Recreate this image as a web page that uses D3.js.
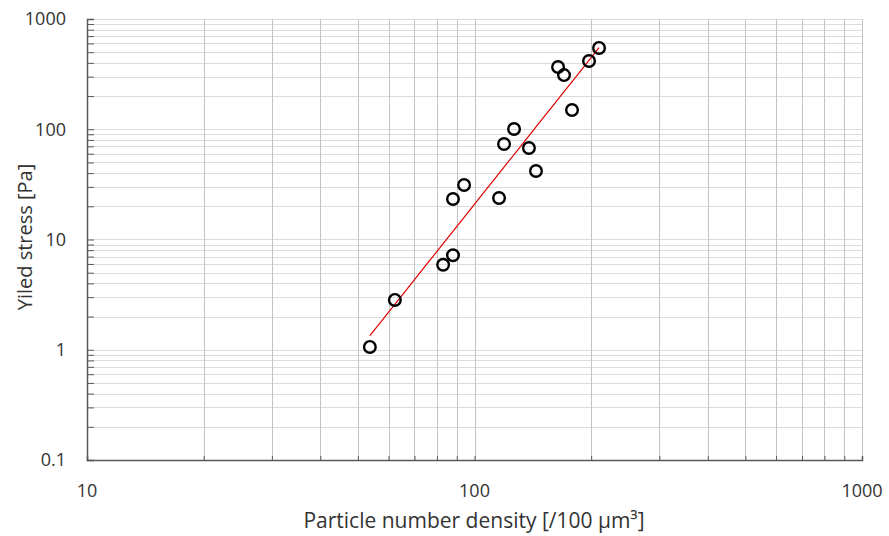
<!DOCTYPE html>
<html>
<head>
<meta charset="utf-8">
<script src="https://cdn.jsdelivr.net/npm/d3@7"></script>
<style>
  body { margin: 0; background: #fff; }
  text { font-family: "Open Sans", "Noto Sans", sans-serif; fill: #333; }
</style>
</head>
<body>
<div id="chart"></div>
<script>
// particle number density [/100 um3]
var density = [53.7, 62.3, 83, 88, 88, 94, 115.7, 119.2, 126.5, 138.2, 144.1, 164.3, 170.2, 178.5, 197.5, 209.6];
// yield stress [Pa]
var stress = [1.06, 2.83, 5.9, 7.2, 23.3, 31.2, 23.8, 73.5, 100.5, 67.6, 41.8, 367, 310, 149.5, 416, 546];
var xTickLabels = [10, 100, 1000];
var yTickLabels = [0.1, 1, 10, 100, 1000];

(function() {
  var width = 889, height = 536;
  var margin = {top: 19, right: 27, bottom: 76, left: 87};

  var svg = d3.select("#chart").append("svg")
    .attr("width", width)
    .attr("height", height);

  var x = d3.scaleLog().domain([10, 1000]).range([margin.left, width - margin.right]);
  var y = d3.scaleLog().domain([0.1, 1000]).range([height - margin.bottom, margin.top]);

  // every 1..9 step within each decade
  function minorTicks(lo, hi) {
    var out = [];
    for (var p = lo; p < hi; p *= 10)
      for (var k = 1; k < 10; k++) out.push(p * k);
    out.push(hi);
    return out;
  }
  var xGrid = minorTicks(10, 1000);
  var yGrid = minorTicks(0.1, 1000);

  // horizontal grid (lighter)
  svg.append("g").selectAll("line")
    .data(yGrid)
    .enter().append("line")
    .attr("x1", x.range()[0]).attr("x2", x.range()[1])
    .attr("y1", function(d) { return Math.round(y(d)) + 0.5; })
    .attr("y2", function(d) { return Math.round(y(d)) + 0.5; })
    .attr("stroke", "#dcdcdc").attr("stroke-width", 1);

  // vertical grid (darker)
  svg.append("g").selectAll("line")
    .data(xGrid)
    .enter().append("line")
    .attr("y1", y.range()[0]).attr("y2", y.range()[1])
    .attr("x1", function(d) { return Math.round(x(d)) + 0.5; })
    .attr("x2", function(d) { return Math.round(x(d)) + 0.5; })
    .attr("stroke", "#c4c4c4").attr("stroke-width", 1);

  // axes: ticks point inward, labels only at decades
  var yAxis = d3.axisLeft(y).tickValues(yGrid).tickSize(-7).tickFormat("");
  var xAxis = d3.axisBottom(x).tickValues(xGrid).tickSize(-4).tickFormat("");

  svg.append("g")
    .attr("transform", "translate(" + x.range()[0] + ",0)")
    .call(yAxis)
    .call(function(g) {
      g.select(".domain").attr("stroke", "#595959").attr("stroke-width", 1.5);
      g.selectAll(".tick line").attr("stroke", "#595959");
    });

  svg.append("g")
    .attr("transform", "translate(0," + y.range()[0] + ")")
    .call(xAxis)
    .call(function(g) {
      g.select(".domain").attr("stroke", "#595959").attr("stroke-width", 1.5);
      g.selectAll(".tick line").attr("stroke", "#595959");
    });

  svg.append("g").selectAll("text")
    .data(yTickLabels)
    .enter().append("text")
    .attr("x", 66)
    .attr("y", function(d) { return y(d); })
    .attr("dy", "0.35em")
    .attr("text-anchor", "end")
    .style("font-size", "18px")
    .text(function(d) { return d; });

  svg.append("g").selectAll("text")
    .data(xTickLabels)
    .enter().append("text")
    .attr("x", function(d) { return x(d); })
    .attr("y", 497)
    .attr("text-anchor", "middle")
    .style("font-size", "18px")
    .text(function(d) { return d; });

  svg.append("text")
    .attr("x", 474).attr("y", 528)
    .attr("text-anchor", "middle")
    .style("font-size", "21px")
    .text("Particle number density [/100 \u00b5m\u00b3]");

  svg.append("text")
    .attr("transform", "translate(32,237) rotate(-90)")
    .attr("text-anchor", "middle")
    .style("font-size", "20px")
    .text("Yiled stress [Pa]");

  // power trendline: least squares in log-log space
  var lx = density.map(Math.log10), ly = stress.map(Math.log10);
  var mx = d3.mean(lx), my = d3.mean(ly);
  var b = d3.sum(lx, function(v, i) { return (v - mx) * (ly[i] - my); }) /
          d3.sum(lx, function(v) { return (v - mx) * (v - mx); });
  var a = my - b * mx;
  var ext = d3.extent(density);
  var trend = d3.range(0, 21).map(function(i) {
    var xv = ext[0] * Math.pow(ext[1] / ext[0], i / 20);
    return [xv, Math.pow(10, a + b * Math.log10(xv))];
  });

  svg.append("path")
    .datum(trend)
    .attr("fill", "none")
    .attr("stroke", "#e00000")
    .attr("stroke-width", 1.2)
    .attr("d", d3.line()
      .x(function(d) { return x(d[0]); })
      .y(function(d) { return y(d[1]); }));

  svg.append("g").selectAll("circle")
    .data(density)
    .enter().append("circle")
    .attr("cx", function(d) { return x(d); })
    .attr("cy", function(d, i) { return y(stress[i]); })
    .attr("r", 5.8)
    .attr("fill", "none")
    .attr("stroke", "#000")
    .attr("stroke-width", 2.4);
})();
</script>
</body>
</html>
